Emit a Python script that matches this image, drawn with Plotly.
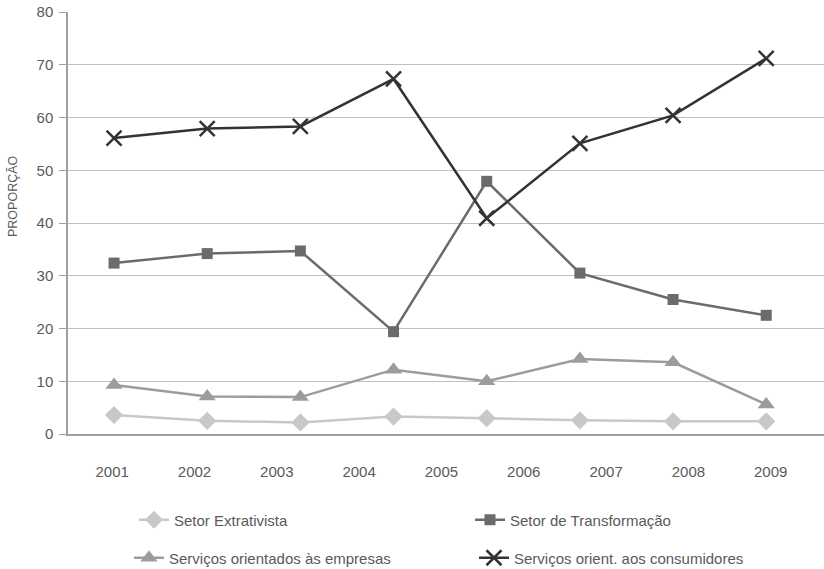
import plotly.graph_objects as go

# Eight observation points drawn on an index axis; the nine year labels are spread evenly
# over the same span, so they do not coincide with the points.
pontos = list(range(8))
anos = [2001, 2002, 2003, 2004, 2005, 2006, 2007, 2008, 2009]

extrativista = [3.6, 2.5, 2.2, 3.3, 3.0, 2.6, 2.4, 2.4]
transformacao = [32.4, 34.2, 34.7, 19.4, 47.9, 30.5, 25.5, 22.5]
servicos_empresas = [9.3, 7.1, 7.0, 12.2, 10.0, 14.2, 13.6, 5.6]
servicos_consumidores = [56.1, 57.9, 58.3, 67.3, 40.9, 55.1, 60.4, 71.2]

# year label placement on the index axis: first label offset and spacing
ANO_INICIO = -0.02
ANO_PASSO = 0.8835
posicoes_anos = [ANO_INICIO + k * ANO_PASSO for k in range(len(anos))]

FONT = "Liberation Sans"
TXT = "#5a5a5a"

series = [
    dict(name="Setor Extrativista", y=extrativista, color="#c8c8c8",
         symbol="diamond", size=14, legend="legend"),
    dict(name="Setor de Transformação", y=transformacao, color="#6b6b6b",
         symbol="square", size=11, legend="legend2"),
    dict(name="Serviços orientados às empresas", y=servicos_empresas, color="#9c9c9c",
         symbol="triangle-up", size=15, legend="legend3"),
    dict(name="Serviços orient. aos consumidores", y=servicos_consumidores, color="#333333",
         symbol="x-thin", size=15, legend="legend4"),
]

fig = go.Figure()
for s in series:
    if s["symbol"] == "x-thin":
        marker = dict(symbol="x-thin", size=s["size"],
                      line=dict(color=s["color"], width=2.5))
    else:
        marker = dict(symbol=s["symbol"], size=s["size"], color=s["color"],
                      line=dict(width=0))
    fig.add_trace(go.Scatter(
        x=pontos, y=s["y"], name=s["name"], mode="lines+markers",
        line=dict(color=s["color"], width=2.5), marker=marker,
        legend=s["legend"], hoverinfo="y+name",
    ))

W, H = 824, 569


def legend_at(px, py):
    return dict(
        xref="container", yref="container",
        x=px / W, y=1 - py / H, xanchor="left", yanchor="middle",
        orientation="h", bgcolor="rgba(0,0,0,0)", borderwidth=0,
        font=dict(family=FONT, size=15, color=TXT),
        itemwidth=30,
    )


fig.update_layout(
    width=W, height=H,
    margin=dict(l=68, r=0, t=12, b=135),
    plot_bgcolor="white", paper_bgcolor="white",
    font=dict(family=FONT, size=15, color=TXT),
    showlegend=True,
    legend=legend_at(134, 520),
    legend2=legend_at(470, 520),
    legend3=legend_at(129, 558),
    legend4=legend_at(474, 558),
    xaxis=dict(
        range=[-0.494, 7.62], tickvals=posicoes_anos,
        ticktext=[str(a) for a in anos],
        ticks="", ticklabelstandoff=23,
        tickfont=dict(family=FONT, size=15, color=TXT),
        showgrid=False, zeroline=False,
        showline=True, linecolor="#a0a0a0", linewidth=1.5,
    ),
    yaxis=dict(
        range=[0, 80], dtick=10, showgrid=True, gridcolor="#c0c0c0", gridwidth=1.3,
        zeroline=False, showline=True, linecolor="#a0a0a0", linewidth=1.5,
        ticks="outside", ticklen=7, tickcolor="#a0a0a0", tickwidth=1.3,
        ticklabelstandoff=3,
        tickfont=dict(family=FONT, size=15, color=TXT),
    ),
    annotations=[dict(
        text="PROPORÇÃO", xref="paper", yref="paper", x=0, y=0.564,
        xshift=-55, textangle=-90, showarrow=False, xanchor="center", yanchor="middle",
        font=dict(family=FONT, size=12.5, color=TXT),
    )],
)

fig.write_html("out.html")
